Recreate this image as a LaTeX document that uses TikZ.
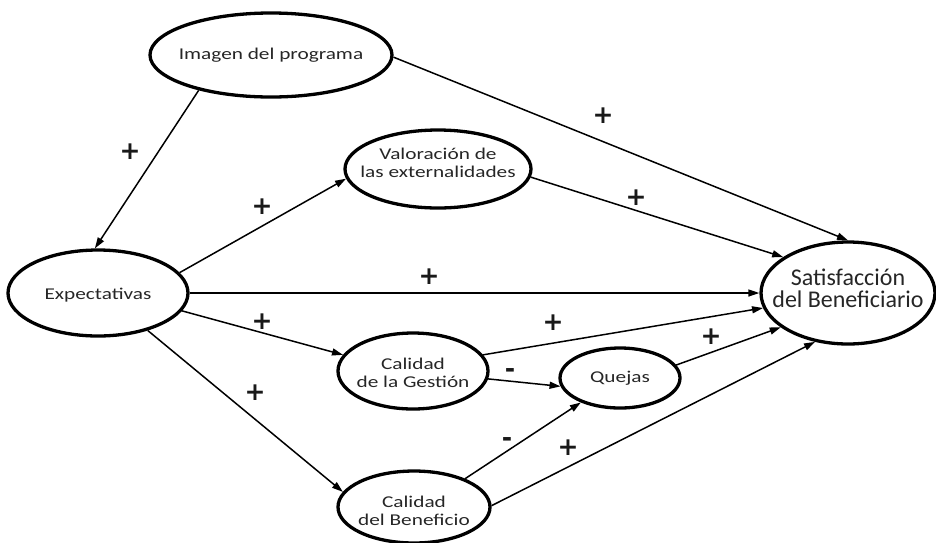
\documentclass[tikz,border=0pt]{standalone}
\usepackage{fontspec}
\setmainfont{Carlito}
\newfontfamily\widefont[FakeStretch=1.29]{Carlito}
\newfontfamily\signfont{DejaVu Sans}
\usetikzlibrary{shapes.geometric,arrows.meta}
\begin{document}
\begin{tikzpicture}[x=1pt,y=-1pt,
  ell/.style={draw, ellipse, line width=3.3pt, inner sep=0pt},
  lbl/.style={font=\widefont\fontsize{16.5}{18}\selectfont, align=center, text=black!85},
  biglbl/.style={font=\fontsize{24}{22}\selectfont, align=center, text=black!85},
  conn/.style={line width=1.5pt, -{Triangle[length=11pt,width=7pt]}},
  sgn/.style={font=\signfont\bfseries\fontsize{25}{25}\selectfont, text=black!90, inner sep=0pt}]
\useasboundingbox (0,0) rectangle (936,542);

\node[ell, minimum width=242pt, minimum height=84pt,
  label={[lbl]center:Imagen del programa}] (img) at (271,55) {};
\node[ell, minimum width=186pt, minimum height=78pt,
  label={[lbl,yshift=6pt]center:Valoración de\\las externalidades}] (val) at (438,169) {};
\node[ell, minimum width=180pt, minimum height=86pt,
  label={[lbl,yshift=-2pt]center:Expectativas}] (exp) at (98,293) {};
\node[ell, minimum width=174pt, minimum height=102pt,
  label={[biglbl,yshift=5pt]center:Satisfacción\\del Beneficiario}] (sat) at (848,293) {};
\node[ell, minimum width=150pt, minimum height=76pt,
  label={[lbl,yshift=-2pt]center:Calidad\\de la Gestión}] (ges) at (413,371) {};
\node[ell, minimum width=120pt, minimum height=60pt,
  label={[lbl]center:Quejas}] (que) at (620,378) {};
\node[ell, minimum width=152pt, minimum height=72pt,
  label={[lbl,yshift=-4pt]center:Calidad\\del Beneficio}] (ben) at (414,507) {};

\draw[conn] (img.206) -- (exp.94);
\draw[conn] (img.359) -- (sat.90);
\draw[conn] (exp.14) -- (val.186);
\draw[conn] (val.355) -- (sat.151);
\draw[conn] (exp.east) -- (sat.west);
\draw[conn] (exp.348) -- (ges.167);
\draw[conn] (exp.323) -- (ben.168);
\draw[conn] (ges.13) -- (sat.190);
\draw[conn] (ges.354) -- (que.188);
\draw[conn] (que.13) -- (sat.207);
\draw[conn] (ben.29) -- (que.212);
\draw[conn] (ben.1) -- (sat.236);

\node[sgn] (s1) at (130,152) {+};
\node[sgn] (s2) at (262,207) {+};
\node[sgn] (s3) at (603,116) {+};
\node[sgn] (s4) at (636,198) {+};
\node[sgn] (s5) at (429,277) {+};
\node[sgn] (s6) at (262,322) {+};
\node[sgn] (s7) at (255,393) {+};
\node[sgn] (s8) at (553,323) {+};
\node[sgn] (s9) at (510,373) {-};
\node[sgn] (s10) at (711,337) {+};
\node[sgn] (s11) at (507,442) {-};
\node[sgn] (s12) at (568,448) {+};
\end{tikzpicture}
\end{document}
